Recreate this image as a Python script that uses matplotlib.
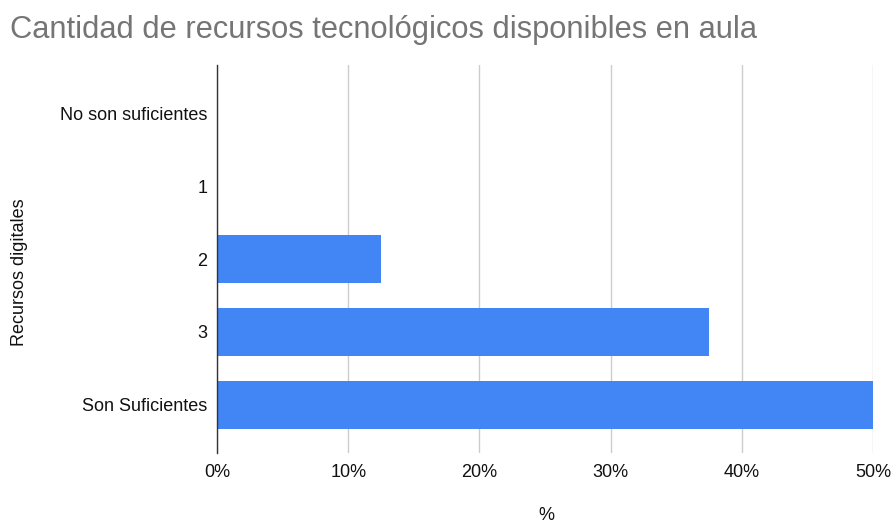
import matplotlib.pyplot as plt
from matplotlib.ticker import FuncFormatter

plt.rcParams['font.family'] = ['Liberation Sans', 'DejaVu Sans']

# Recursos digitales (escala 1-4) y porcentaje de respuestas
categorias = ["No son suficientes", "1", "2", "3", "Son Suficientes"]
porcentajes = [0.0, 0.0, 12.5, 37.5, 50.0]
x_ticks = [0, 10, 20, 30, 40, 50]

fig = plt.figure(figsize=(8.94, 5.24), dpi=100)
ax = fig.add_axes([217/894, 1 - 453/524, (873-217)/894, (453-65)/524])

pos = list(range(len(categorias)))
ax.barh(pos, porcentajes, height=0.65, color='#4285f4', zorder=3)

ax.set_yticks(pos)
ax.set_yticklabels(categorias, fontsize=13, color='#111111')
ax.set_ylim(4.66, -0.66)
ax.set_xlim(0, 50)
ax.set_xticks(x_ticks)
ax.xaxis.set_major_formatter(FuncFormatter(lambda v, p: '%d%%' % v))
ax.tick_params(axis='x', labelsize=13, labelcolor='#111111', length=0, pad=8)
ax.tick_params(axis='y', length=0, pad=7)
ax.grid(axis='x', color='#cccccc', linewidth=1, zorder=0)

for side in ['top', 'right', 'bottom']:
    ax.spines[side].set_visible(False)
ax.spines['left'].set_color('#333333')
ax.spines['left'].set_linewidth(1)
ax.spines['left'].set_zorder(4)

fig.text(546/894, 1 - 516/524, '%', fontsize=13, color='#111111',
         ha='center', va='center')
fig.text(20/894, 1 - 272/524, 'Recursos digitales', rotation=90, fontsize=13,
         color='#111111', ha='center', va='center')
fig.text(10/894, 1 - 30/524, 'Cantidad de recursos tecnológicos disponibles en aula',
         fontsize=22.2, color='#757575', ha='left', va='center')

fig.savefig('out.png', dpi=100)
